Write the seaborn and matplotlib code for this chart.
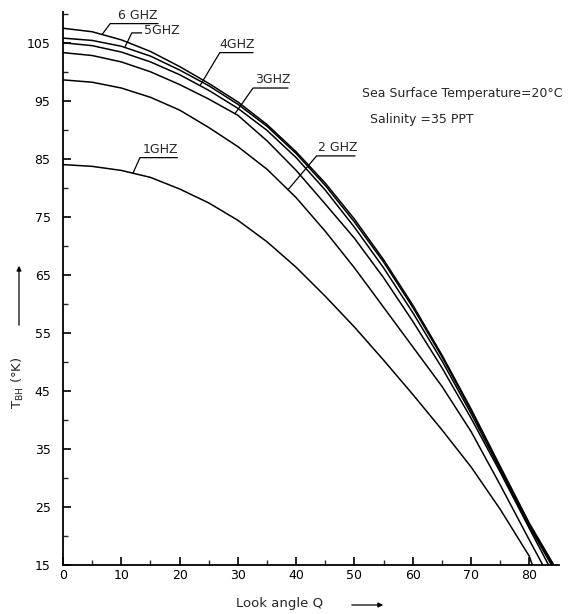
import numpy as np
import pandas as pd
import matplotlib
matplotlib.use("Agg")
import matplotlib.pyplot as plt
import seaborn as sns

# ---- data ----
angles = [0, 5, 10, 15, 20, 25, 30, 35, 40, 45, 50, 55, 60, 65, 70, 75, 80]
tb_1ghz = [84.0, 83.7, 83.0, 81.8, 79.8, 77.4, 74.4, 70.7, 66.3, 61.3, 56.0, 50.3, 44.4, 38.3, 31.9, 24.6, 16.5]
tb_2ghz = [98.6, 98.2, 97.2, 95.6, 93.4, 90.4, 87.1, 83.2, 78.3, 72.5, 66.2, 59.4, 52.6, 45.8, 38.0, 28.8, 19.3]
tb_3ghz = [103.3, 102.8, 101.7, 100.0, 97.8, 95.3, 92.5, 88.1, 83.0, 77.2, 71.3, 64.5, 57.0, 49.0, 40.3, 31.0, 21.3]
tb_4ghz = [105.0, 104.5, 103.4, 101.7, 99.5, 96.8, 93.7, 89.9, 85.2, 79.6, 73.2, 66.2, 58.5, 50.2, 41.1, 31.4, 21.6]
tb_5ghz = [105.8, 105.4, 104.4, 102.7, 100.3, 97.6, 94.4, 90.6, 85.9, 80.4, 74.1, 67.2, 59.4, 50.9, 41.6, 31.8, 22.0]
tb_6ghz = [107.5, 106.9, 105.5, 103.5, 100.9, 98.0, 94.8, 90.9, 86.2, 80.8, 74.6, 67.6, 59.8, 51.2, 41.9, 32.0, 22.2]
freq_labels = ["1GHZ", "2 GHZ", "3GHZ", "4GHZ", "5GHZ", "6 GHZ"]
end_angles = [80.5, 82.3, 83.3, 83.8, 84.0, 84.2]   # where each curve meets the 15 K axis
end_tb = 15.0
x_ticks = [0, 10, 20, 30, 40, 50, 60, 70, 80]
y_ticks = [15, 25, 35, 45, 55, 65, 75, 85, 95, 105]

series = [tb_1ghz, tb_2ghz, tb_3ghz, tb_4ghz, tb_5ghz, tb_6ghz]
rows = []
for lab, vals, ea in zip(freq_labels, series, end_angles):
    for a, v in zip(angles + [ea], vals + [end_tb]):
        rows.append({"angle": a, "tb": v, "freq": lab})
df = pd.DataFrame(rows)

sns.set_style("ticks")
plt.rcParams["font.family"] = ["DejaVu Sans"]
plt.rcParams["xtick.direction"] = "in"
plt.rcParams["ytick.direction"] = "in"

fig = plt.figure(figsize=(5.72, 6.14), dpi=100)
ax = fig.add_axes([63 / 572, 1 - 565 / 614, (558.5 - 63) / 572, (565 - 12) / 614])

sns.lineplot(data=df, x="angle", y="tb", hue="freq", hue_order=freq_labels,
             palette=["black"] * 6, estimator=None, sort=False, legend=False,
             linewidth=1.1, ax=ax)

ax.set_xlim(0, 85)
ax.set_ylim(15, 110.3)
ax.set_xticks(x_ticks)
ax.set_xticks([5, 15, 25, 35, 45, 55, 65, 75], minor=True)
ax.set_yticks(y_ticks)
ax.set_yticks([20, 30, 40, 50, 60, 70, 80, 90, 100, 110], minor=True)
ax.tick_params(axis="both", which="major", length=6, width=1.2, labelsize=9, colors="black")
ax.tick_params(axis="both", which="minor", length=3.5, width=1.0)
ax.tick_params(axis="y", which="major", pad=9)
ax.tick_params(axis="x", which="major", pad=3)
for s in ["top", "right"]:
    ax.spines[s].set_visible(False)
for s in ["left", "bottom"]:
    ax.spines[s].set_linewidth(1.3)
    ax.spines[s].set_color("black")
ax.set_xlabel("")
ax.set_ylabel("")

# ---- curve labels with underline + leader ----
# (label, text x, text y (baseline), underline x0, x1, underline y, curve angle, series index)
label_specs = [
    ("6 GHZ", 9.4, 108.6, 8.1, 16.3, 108.3, 6.7, 5),
    ("5GHZ", 13.9, 106.0, 11.8, 13.5, 106.7, 10.6, 4),
    ("4GHZ", 26.9, 103.6, 26.9, 32.6, 103.3, 23.5, 3),
    ("3GHZ", 32.9, 97.5, 32.6, 38.6, 97.2, 29.5, 2),
    ("2 GHZ", 43.7, 85.9, 43.5, 50.1, 85.5, 38.6, 1),
    ("1GHZ", 13.7, 85.4, 13.2, 19.6, 85.2, 12.0, 0),
]
for lab, tx, ty, ux0, ux1, uy, ca, idx in label_specs:
    cy = np.interp(ca, angles, series[idx])
    ax.text(tx, ty, lab, fontsize=9, ha="left", va="bottom")
    ax.plot([ux1, ux0, ca], [uy, uy, cy], color="black", lw=0.9)

fig.text(362 / 572, 1 - 94 / 614, "Sea Surface Temperature=20°C", fontsize=9, ha="left", va="center")
fig.text(370 / 572, 1 - 120 / 614, "Salinity =35 PPT", fontsize=9, ha="left", va="center")

# axis titles with arrows
fig.text(280 / 572, 1 - 604 / 614, "Look angle Q", fontsize=9.5, ha="center", va="center")
fig.text(18 / 572, 1 - 383 / 614, "T$_{\\mathrm{BH}}$ (°K)", fontsize=9.5, ha="center", va="center", rotation=90)
fig.add_artist(matplotlib.patches.FancyArrowPatch((349 / 572, 1 - 605 / 614), (386 / 572, 1 - 605 / 614),
               transform=fig.transFigure, arrowstyle="-|>", mutation_scale=7, lw=0.9, color="black"))
fig.add_artist(matplotlib.patches.FancyArrowPatch((19 / 572, 1 - 328 / 614), (19 / 572, 1 - 263 / 614),
               transform=fig.transFigure, arrowstyle="-|>", mutation_scale=7, lw=0.9, color="black"))

fig.savefig("out.png", dpi=100, facecolor="white")
